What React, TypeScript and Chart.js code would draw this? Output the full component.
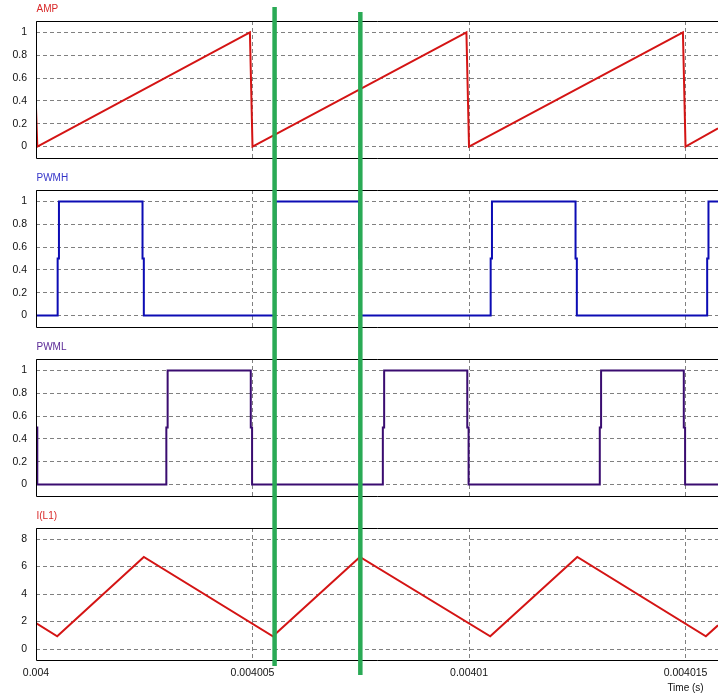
import { useEffect, useRef } from 'react';
import { Chart, registerables } from 'chart.js';

Chart.register(...registerables);

// ---------- data ----------
const xMin = 0.004;
const xMax = 0.00401575;
const xTickValues = [0.004, 0.004005, 0.00401, 0.004015];
const xTickLabels = ['0.004', '0.004005', '0.00401', '0.004015'];
const xAxisTitle = 'Time (s)';

const unitTickValues = [0, 0.2, 0.4, 0.6, 0.8, 1];
const unitTickLabels = ['0', '0.2', '0.4', '0.6', '0.8', '1'];
const currentTickValues = [0, 2, 4, 6, 8];
const currentTickLabels = ['0', '2', '4', '6', '8'];

const ampTime = [0.004, 0.004, 0.00400003, 0.00400494, 0.00400497, 0.004005, 0.00400994, 0.00400997, 0.00401, 0.00401494, 0.00401497, 0.004015, 0.00401575];
const ampValue = [1, 0.34, 0, 1, 0.5, 0, 1, 0.5, 0, 1, 0.5, 0, 0.16];

const pwmhTime = [
  0.004, 0.0040005, 0.0040005, 0.00400053, 0.00400053, 0.00400246, 0.00400246, 0.00400249, 0.00400249,
  0.0040055, 0.0040055, 0.00400553, 0.00400553, 0.00400746, 0.00400746, 0.00400749, 0.00400749,
  0.0040105, 0.0040105, 0.00401053, 0.00401053, 0.00401246, 0.00401246, 0.00401249, 0.00401249,
  0.0040155, 0.0040155, 0.00401553, 0.00401553, 0.00401575,
];
const pwmhValue = [
  0, 0, 0.5, 0.5, 1, 1, 0.5, 0.5, 0,
  0, 0.5, 0.5, 1, 1, 0.5, 0.5, 0,
  0, 0.5, 0.5, 1, 1, 0.5, 0.5, 0,
  0, 0.5, 0.5, 1, 1,
];

const pwmlTime = [
  0.004, 0.004, 0.00400003, 0.00400003,
  0.00400301, 0.00400301, 0.00400304, 0.00400304,
  0.00400496, 0.00400496, 0.00400499, 0.00400499,
  0.00400801, 0.00400801, 0.00400804, 0.00400804,
  0.00400996, 0.00400996, 0.00400999, 0.00400999,
  0.00401302, 0.00401302, 0.00401305, 0.00401305,
  0.00401496, 0.00401496, 0.00401499, 0.00401499,
  0.00401575,
];
const pwmlValue = [
  1, 0.5, 0.5, 0,
  0, 0.5, 0.5, 1,
  1, 0.5, 0.5, 0,
  0, 0.5, 0.5, 1,
  1, 0.5, 0.5, 0,
  0, 0.5, 0.5, 1,
  1, 0.5, 0.5, 0,
  0,
];

const currentTime = [0.004, 0.00400049, 0.00400249, 0.00400547, 0.00400748, 0.00401049, 0.0040125, 0.00401547, 0.00401575];
const currentValue = [1.89, 0.92, 6.69, 0.92, 6.69, 0.92, 6.69, 0.92, 1.72];

const markerTime = [0.00400551, 0.00400749];

// ---------- style ----------
const WIDTH = 718;
const FONT = "'Liberation Sans', Arial, Helvetica, sans-serif";
const GRID = '#808080';
const GREEN = '#2aaa55';
const MARKER_EXTENT = [
  { top: 7, bottom: 666 },
  { top: 12, bottom: 675 },
];

type Panel = {
  title: string;
  titleColor: string;
  lineColor: string;
  times: number[];
  values: number[];
  yMin: number;
  yMax: number;
  yTicks: number[];
  yLabels: string[];
  height: number;
  offset: number;
  last: boolean;
};

const panels: Panel[] = [
  { title: 'AMP', titleColor: '#d82828', lineColor: '#d41414', times: ampTime, values: ampValue, yMin: -0.1, yMax: 1.1, yTicks: unitTickValues, yLabels: unitTickLabels, height: 169, offset: 0, last: false },
  { title: 'PWMH', titleColor: '#3434c8', lineColor: '#0c0cb4', times: pwmhTime, values: pwmhValue, yMin: -0.1, yMax: 1.1, yTicks: unitTickValues, yLabels: unitTickLabels, height: 169, offset: 169, last: false },
  { title: 'PWML', titleColor: '#5a2896', lineColor: '#3a0c70', times: pwmlTime, values: pwmlValue, yMin: -0.1, yMax: 1.1, yTicks: unitTickValues, yLabels: unitTickLabels, height: 169, offset: 338, last: false },
  { title: 'I(L1)', titleColor: '#d82828', lineColor: '#d41414', times: currentTime, values: currentValue, yMin: -0.8, yMax: 8.8, yTicks: currentTickValues, yLabels: currentTickLabels, height: 189, offset: 507, last: true },
];

const framePlugin = {
  id: 'frame',
  afterDraw(chart: any) {
    const { ctx, chartArea } = chart;
    const l = Math.round(chartArea.left) + 0.5;
    const t = Math.round(chartArea.top) + 0.5;
    const b = Math.round(chartArea.bottom) + 0.5;
    ctx.save();
    ctx.strokeStyle = '#000';
    ctx.lineWidth = 1;
    ctx.beginPath();
    ctx.moveTo(chart.width, t);
    ctx.lineTo(l, t);
    ctx.lineTo(l, b);
    ctx.lineTo(chart.width, b);
    ctx.stroke();
    ctx.restore();
  },
};

const panelTitlePlugin = {
  id: 'panelTitle',
  afterDraw(chart: any, _args: any, opts: any) {
    const { ctx, chartArea } = chart;
    ctx.save();
    ctx.font = `10px ${FONT}`;
    ctx.fillStyle = opts.color;
    ctx.textAlign = 'left';
    ctx.textBaseline = 'alphabetic';
    ctx.fillText(opts.text, chartArea.left + 0.5, chartArea.top - 9.5);
    if (opts.showAxisTitle) {
      const x = chart.scales.x.getPixelForValue(xTickValues[xTickValues.length - 1]);
      ctx.fillStyle = '#111';
      ctx.textAlign = 'center';
      ctx.fillText(xAxisTitle, x, chartArea.bottom + 31);
    }
    ctx.restore();
  },
};

const markerPlugin = {
  id: 'markers',
  afterDraw(chart: any, _args: any, opts: any) {
    const { ctx } = chart;
    const x = chart.scales.x;
    ctx.save();
    ctx.strokeStyle = GREEN;
    ctx.lineWidth = 4.5;
    ctx.lineCap = 'butt';
    markerTime.forEach((t, i) => {
      const px = x.getPixelForValue(t);
      const top = Math.max(0, MARKER_EXTENT[i].top - opts.offset);
      const bottom = Math.min(chart.height, MARKER_EXTENT[i].bottom - opts.offset);
      if (bottom <= top) return;
      ctx.beginPath();
      ctx.moveTo(px, top);
      ctx.lineTo(px, bottom);
      ctx.stroke();
    });
    ctx.restore();
  },
};

function PanelChart({ panel }: { panel: Panel }) {
  const ref = useRef<HTMLCanvasElement>(null);
  useEffect(() => {
    if (!ref.current) return;
    const points = panel.times.map((t, i) => ({ x: t, y: panel.values[i] }));
    const chart = new Chart(ref.current, {
      type: 'line',
      data: {
        datasets: [
          {
            data: points,
            borderColor: panel.lineColor,
            borderWidth: 2,
            pointRadius: 0,
            tension: 0,
            fill: false,
          },
        ],
      },
      options: {
        animation: false,
        responsive: false,
        maintainAspectRatio: false,
        events: [],
        layout: { padding: { top: 21, right: 0, bottom: 0, left: 0 } },
        plugins: {
          legend: { display: false },
          tooltip: { enabled: false },
          title: { display: false },
          panelTitle: { text: panel.title, color: panel.titleColor, showAxisTitle: panel.last },
          markers: { offset: panel.offset },
        } as any,
        scales: {
          x: {
            type: 'linear',
            min: xMin,
            max: xMax,
            afterBuildTicks: (s: any) => {
              s.ticks = xTickValues.map((v) => ({ value: v }));
            },
            afterFit: (s: any) => {
              s.height = panel.last ? 36 : 11;
              s.paddingLeft = 0;
              s.paddingRight = 0;
            },
            grid: { display: true, drawTicks: false, color: GRID, lineWidth: 1 },
            border: { display: false, dash: [4, 3] },
            ticks: {
              display: panel.last,
              autoSkip: false,
              maxRotation: 0,
              padding: 7,
              color: '#111',
              font: { family: FONT, size: 10.5 },
              callback: (_v: any, i: number) => xTickLabels[i],
            },
          },
          y: {
            type: 'linear',
            min: panel.yMin,
            max: panel.yMax,
            afterBuildTicks: (s: any) => {
              s.ticks = panel.yTicks.map((v) => ({ value: v }));
            },
            afterFit: (s: any) => {
              s.width = 36;
              s.paddingTop = 0;
              s.paddingBottom = 0;
            },
            grid: { display: true, drawTicks: false, color: GRID, lineWidth: 1 },
            border: { display: false, dash: [4, 3] },
            ticks: {
              padding: 9,
              color: '#111',
              font: { family: FONT, size: 10.5 },
              callback: (_v: any, i: number) => panel.yLabels[i],
            },
          },
        },
      } as any,
      plugins: [framePlugin, panelTitlePlugin, markerPlugin],
    });
    return () => chart.destroy();
  }, [panel]);
  return <canvas ref={ref} width={WIDTH} height={panel.height} style={{ display: 'block' }} />;
}

export default function App() {
  return (
    <div style={{ position: 'absolute', left: 0, top: 0, width: WIDTH, height: 696, background: '#fff' }}>
      {panels.map((p) => (
        <PanelChart key={p.title} panel={p} />
      ))}
    </div>
  );
}
